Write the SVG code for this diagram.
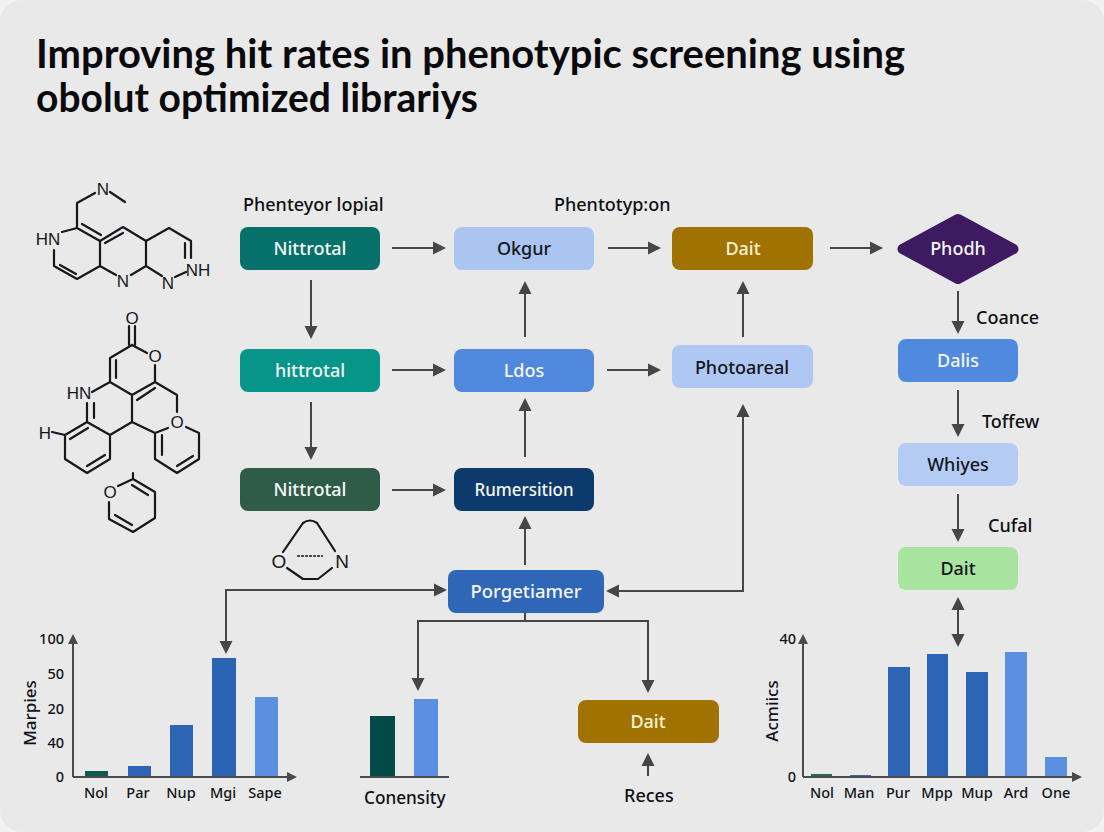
<svg xmlns="http://www.w3.org/2000/svg" width="1104" height="832" viewBox="0 0 1104 832">
<style>
text{font-family:"Noto Sans","Open Sans","Liberation Sans",sans-serif}
.title{font-family:Lato,"Noto Sans",sans-serif;font-weight:700;font-size:40px;fill:#0a0a0c}
.n{font-size:18px;font-weight:500;text-anchor:middle;dominant-baseline:central}
.w{fill:#f4f8f6}.d{fill:#14161c}.y{fill:#fbf3d2}
.l{font-size:18px;font-weight:500;fill:#0e1014}
.a{font-size:14.5px;font-weight:500;fill:#111318;text-anchor:middle}
.t{font-size:14.5px;font-weight:500;fill:#111318;text-anchor:end}
.c{fill:none;stroke:#454648;stroke-width:2}
.m{fill:none;stroke:#17181b;stroke-width:2.2;stroke-linecap:round;stroke-linejoin:round}
.at{font-size:17px;fill:#17181b;text-anchor:middle;dominant-baseline:central;font-family:"Liberation Sans",sans-serif}
.ax{fill:none;stroke:#4a4b4d;stroke-width:2}
</style>
<defs>
<marker id="ah" markerUnits="userSpaceOnUse" markerWidth="14" markerHeight="14" refX="7" refY="7" orient="auto-start-reverse"><path d="M1 .5L14 7L1 13.500z" fill="#454648"/></marker>
<marker id="as" markerUnits="userSpaceOnUse" markerWidth="11" markerHeight="12" refX="5" refY="6" orient="auto"><path d="M1 1L11 6L1 11z" fill="#4a4b4d"/></marker>
</defs>
<rect width="1104" height="832" fill="#f1f1f1"/>
<rect width="1104" height="832" rx="22" fill="#e9e9ea"/>
<text class="title" x="36" y="68" textLength="869" lengthAdjust="spacingAndGlyphs">Improving hit rates in phenotypic screening using</text>
<text class="title" x="36" y="112" textLength="442" lengthAdjust="spacingAndGlyphs">obolut optimized librariys</text>

<g id="molecules">
<path class="m" d="M77 203L95 193M110 192L125 202M77 203V228L100 241M82 224L101 235M62 232L77 228M54 250V266L77 279L100 266V241M60 265L76 274M100 241L123 227L146 241V266L131 275M100 266L116 275M105 243L123 233M146 241L169 228L191 241V258M185 243V258M146 266L162 276M175 277L186 272"/>
<text class="at" x="48" y="239">HN</text><text class="at" x="103" y="189">N</text><text class="at" x="123" y="281">N</text><text class="at" x="168" y="283">N</text><text class="at" x="198" y="270">NH</text>
<path class="m" d="M129 326V345M135 326V345M132 345L110 358V382M116 360V378M132 345L147 353M155 365V382M92 392L110 382L132 395L155 382L177 395V412M137 400L155 388M132 395V422L110 435M132 422L155 433M87 403V422M94 403V418M87 422L65 435M88 428L70 439M65 435V459L87 473L110 459V435M87 466L105 455M87 422L110 435M155 433V459L177 473L199 459V433L186 427M162 435V455M177 466L193 456M168 428L155 433M52 432L65 435"/>
<text class="at" x="132" y="318">O</text><text class="at" x="155" y="356">O</text><text class="at" x="79" y="393">HN</text><text class="at" x="177" y="422">O</text><text class="at" x="45" y="433">H</text>
<path class="m" d="M133 473V479L155 492V518L133 532L109 519V502M132 485L148 495M132 525L115 515M118 486L133 479"/>
<text class="at" x="110" y="492">O</text>
<path class="m" d="M283 552L303 523Q310 518 317 523L335 551M287 568L303 579H318L332 568"/>
<path d="M297 556H323" fill="none" stroke="#17181b" stroke-width="1.500" stroke-dasharray="3 1"/>
<text class="at" x="279" y="561" style="font-size:19px">O</text><text class="at" x="342" y="561" style="font-size:19px">N</text>
</g>

<g id="labels">
<text class="l" x="243" y="211">Phenteyor lopial</text>
<text class="l" x="554" y="211">Phentotyp:on</text>
<text class="l" x="976" y="324">Coance</text>
<text class="l" x="982" y="428">Toffew</text>
<text class="l" x="988" y="532">Cufal</text>
<text class="l" x="364" y="804" style="font-size:17.200px">Conensity</text>
<text class="l" x="624" y="802">Reces</text>
</g>

<g id="connectors">
<path class="c" marker-end="url(#ah)" d="M392 248H439"/>
<path class="c" marker-end="url(#ah)" d="M608 248H654"/>
<path class="c" marker-end="url(#ah)" d="M830 248H876"/>
<path class="c" marker-end="url(#ah)" d="M392 370H439"/>
<path class="c" marker-end="url(#ah)" d="M607 370H654"/>
<path class="c" marker-end="url(#ah)" d="M392 490H439"/>
<path class="c" marker-end="url(#ah)" d="M311 280V332"/>
<path class="c" marker-end="url(#ah)" d="M311 402V453"/>
<path class="c" marker-end="url(#ah)" d="M525 337V288"/>
<path class="c" marker-end="url(#ah)" d="M525 457V405"/>
<path class="c" marker-end="url(#ah)" d="M525 565V523"/>
<path class="c" marker-end="url(#ah)" d="M743 337V288"/>
<path class="c" marker-end="url(#ah)" d="M958 291V327"/>
<path class="c" marker-end="url(#ah)" d="M958 390V430"/>
<path class="c" marker-end="url(#ah)" d="M958 494V535"/>
<path class="c" marker-start="url(#ah)" marker-end="url(#ah)" d="M958 604V640"/>
<path class="c" marker-start="url(#ah)" marker-end="url(#ah)" d="M226 647V590H440"/>
<path class="c" marker-start="url(#ah)" marker-end="url(#ah)" d="M743 411V591H613"/>
<path class="c" d="M525 613V621"/>
<path class="c" marker-end="url(#ah)" d="M525 621H418V684"/>
<path class="c" marker-end="url(#ah)" d="M525 621H648V686"/>
<path class="c" marker-end="url(#ah)" d="M648 776V760"/>
</g>

<g id="n1"><rect x="240" y="227" width="140" height="43" rx="8" fill="#06716b"/><text class="n w" x="310" y="248">Nittrotal</text></g>
<g id="n2"><rect x="240" y="349" width="140" height="43" rx="8" fill="#07958a"/><text class="n w" x="310" y="370">hittrotal</text></g>
<g id="n3"><rect x="240" y="468" width="140" height="43" rx="8" fill="#2f5b49"/><text class="n w" x="310" y="489">Nittrotal</text></g>
<g id="n4"><rect x="454" y="227" width="140" height="43" rx="8" fill="#aac5f0"/><text class="n d" x="524" y="248">Okgur</text></g>
<g id="n5"><rect x="454" y="349" width="140" height="43" rx="8" fill="#4f88dc"/><text class="n w" x="524" y="370">Ldos</text></g>
<g id="n6"><rect x="454" y="468" width="140" height="43" rx="8" fill="#0c3a6c"/><text class="n w" x="524" y="489" textLength="99" lengthAdjust="spacingAndGlyphs">Rumersition</text></g>
<g id="n7"><rect x="672" y="227" width="141" height="43" rx="8" fill="#a07200"/><text class="n y" x="743" y="248">Dait</text></g>
<g id="n8"><rect x="672" y="345" width="141" height="43" rx="8" fill="#aec8f3"/><text class="n d" x="742" y="367">Photoareal</text></g>
<g id="n9"><path d="M902.500 249L958 219L1013.500 249L958 279z" fill="#3e1a63" stroke="#3e1a63" stroke-width="10" stroke-linejoin="round"/><text class="n w" x="958" y="248">Phodh</text></g>
<g id="n10"><rect x="898" y="339" width="120" height="43" rx="8" fill="#4f8ade"/><text class="n w" x="958" y="360">Dalis</text></g>
<g id="n11"><rect x="898" y="443" width="120" height="43" rx="8" fill="#b4cbf3"/><text class="n d" x="958" y="464">Whiyes</text></g>
<g id="n12"><rect x="898" y="547" width="120" height="43" rx="8" fill="#a8e4a0"/><text class="n d" x="958" y="568">Dait</text></g>
<g id="n13"><rect x="448" y="570" width="156" height="43" rx="8" fill="#2f66b8"/><text class="n w" x="526" y="591" textLength="111" lengthAdjust="spacingAndGlyphs">Porgetiamer</text></g>
<g id="n14"><rect x="578" y="700" width="141" height="43" rx="8" fill="#a07200"/><text class="n y" x="648" y="721">Dait</text></g>

<g id="chart-left">
<rect x="85" y="771" width="23" height="6" fill="#0e5a50"/>
<rect x="128" y="766" width="23" height="11" fill="#2e64b4"/>
<rect x="170" y="725" width="23" height="52" fill="#2e64b4"/>
<rect x="212" y="658" width="24" height="119" fill="#2c63b2"/>
<rect x="255" y="697" width="23" height="80" fill="#5b8fe0"/>
<path class="ax" marker-end="url(#as)" d="M73 777V640"/>
<path class="ax" marker-end="url(#as)" d="M73 777H291"/>
<text class="t" x="64" y="644">100</text><text class="t" x="64" y="679">50</text><text class="t" x="64" y="714">20</text><text class="t" x="64" y="748">40</text><text class="t" x="64" y="782">0</text>
<text class="a" x="96" y="798">Nol</text><text class="a" x="138" y="798">Par</text><text class="a" x="181" y="798">Nup</text><text class="a" x="223" y="798">Mgi</text><text class="a" x="265" y="798">Sape</text>
<text class="a" transform="translate(36 713) rotate(-90)" style="font-size:17px">Marpies</text>
</g>

<g id="chart-center">
<rect x="370" y="716" width="25" height="61" fill="#024a47"/>
<rect x="414" y="699" width="24" height="78" fill="#5b8fe3"/>
<path d="M360 777H449" class="ax"/>
</g>

<g id="chart-right">
<rect x="811" y="774" width="21" height="3" fill="#2f6550"/>
<rect x="850" y="775" width="21" height="2" fill="#3f68a8"/>
<rect x="888" y="667" width="22" height="110" fill="#2e64b4"/>
<rect x="927" y="654" width="21" height="123" fill="#2e64b4"/>
<rect x="966" y="672" width="22" height="105" fill="#2e64b4"/>
<rect x="1005" y="652" width="22" height="125" fill="#5b8fe0"/>
<rect x="1045" y="757" width="22" height="20" fill="#5b8fe0"/>
<path class="ax" marker-end="url(#as)" d="M803 777V640"/>
<path class="ax" marker-end="url(#as)" d="M803 777H1076"/>
<text class="t" x="796" y="644">40</text><text class="t" x="796" y="782">0</text>
<text class="a" x="822" y="798">Nol</text><text class="a" x="859" y="798">Man</text><text class="a" x="898" y="798">Pur</text><text class="a" x="937" y="798">Mpp</text><text class="a" x="977" y="798">Mup</text><text class="a" x="1016" y="798">Ard</text><text class="a" x="1056" y="798">One</text>
<text class="a" transform="translate(778 711) rotate(-90)" style="font-size:17px">Acmiics</text>
</g>
</svg>
